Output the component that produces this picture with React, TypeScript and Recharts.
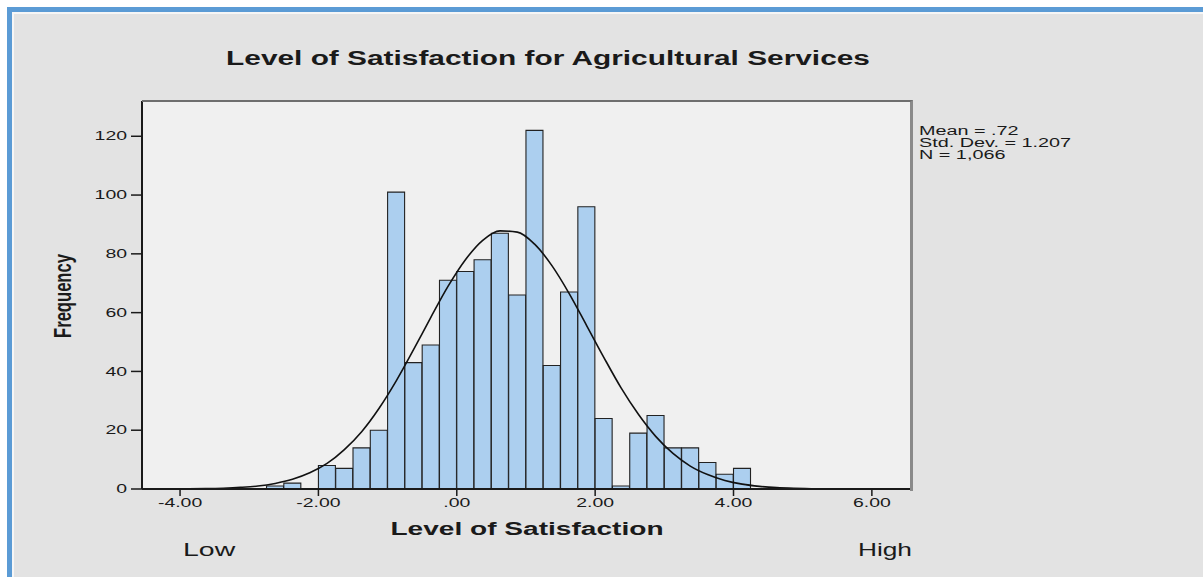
import * as React from "react";
import {
  ComposedChart,
  Bar,
  Line,
  XAxis,
  YAxis,
  CartesianGrid,
} from "recharts";

// bin mid points (bin width .25)
const binMids = [
  -2.625, -2.375, -2.125, -1.875, -1.625, -1.375, -1.125, -0.875, -0.625, -0.375,
  -0.125, 0.125, 0.375, 0.625, 0.875, 1.125, 1.375, 1.625, 1.875, 2.125,
  2.375, 2.625, 2.875, 3.125, 3.375, 3.625, 3.875, 4.125,
];
const counts = [
  1, 2, 0, 8, 7, 14, 20, 101, 43, 49,
  71, 74, 78, 87, 66, 122, 42, 67, 96, 24,
  1, 19, 25, 14, 14, 9, 5, 7,
];

// normal curve heights read at the same .25 grid across the plot
const curveX = [
  -4.375, -4.125, -3.875, -3.625, -3.375, -3.125, -2.875, -2.625, -2.375, -2.125,
  -1.875, -1.625, -1.375, -1.125, -0.875, -0.625, -0.375, -0.125, 0.125, 0.375,
  0.625, 0.875, 1.125, 1.375, 1.625, 1.875, 2.125, 2.375, 2.625, 2.875,
  3.125, 3.375, 3.625, 3.875, 4.125, 4.375, 4.625, 4.875, 5.125, 5.375,
  5.625, 5.875, 6.125, 6.375,
];
const curveY = [
  0.01, 0.03, 0.06, 0.13, 0.28, 0.55, 1.0, 1.9, 3.3, 5.5,
  8.7, 13.4, 19.5, 27.4, 36.8, 47.4, 58.4, 69.0, 78.0, 84.6,
  87.8, 87.4, 83.3, 76.0, 66.5, 55.7, 44.8, 34.4, 25.4, 17.9,
  12.1, 7.8, 4.9, 2.9, 1.65, 0.9, 0.47, 0.24, 0.11, 0.05,
  0.02, 0.01, 0.0, 0.0,
];

const xTicks = [-4, -2, 0, 2, 4, 6];
const yTicks = [0, 20, 40, 60, 80, 100, 120];
const statLines = ["Mean = .72", "Std. Dev. = 1.207", "N = 1,066"];

const rows = curveX.map((x, i) => {
  const j = binMids.indexOf(x);
  return { x, curve: curveY[i], count: j >= 0 ? counts[j] : null };
});

const FONT = "'Liberation Sans', Arial, sans-serif";
const INK = "#1a1a1a";

function fmtX(v: number) {
  if (v === 0) return ".00";
  return v.toFixed(2);
}

function XTick(props: any) {
  const { x, y, payload } = props;
  return (
    <g transform={`translate(${x},${y})`}>
      <text
        transform="scale(1.62,1)"
        textAnchor="middle"
        dy="0.71em"
        fontSize={12}
        fontFamily={FONT}
        fill={INK}
      >
        {fmtX(payload.value)}
      </text>
    </g>
  );
}

function YTick(props: any) {
  const { x, y, payload } = props;
  return (
    <g transform={`translate(${x},${y})`}>
      <text
        transform="scale(1.62,1)"
        textAnchor="end"
        dy="0.35em"
        fontSize={12}
        fontFamily={FONT}
        fill={INK}
      >
        {payload.value}
      </text>
    </g>
  );
}

const abs = (s: React.CSSProperties): React.CSSProperties => ({
  position: "absolute",
  whiteSpace: "nowrap",
  fontFamily: FONT,
  color: INK,
  transformOrigin: "0 0",
  ...s,
});

export default function App() {
  return (
    <div
      style={{
        position: "absolute",
        left: 0,
        top: 0,
        width: 1203,
        height: 577,
        background: "#ffffff",
        overflow: "hidden",
      }}
    >
      {/* blue frame */}
      <div style={{ position: "absolute", left: 7, top: 7, right: 0, bottom: 0, background: "#5b9bd5" }} />
      <div style={{ position: "absolute", left: 12, top: 12, right: 0, bottom: 0, background: "#f6f6f6" }} />
      <div style={{ position: "absolute", left: 14, top: 14, right: 0, bottom: 0, background: "#e3e3e3" }} />

      <div style={{ position: "absolute", left: 0, top: 0 }}>
        <ComposedChart
          width={1203}
          height={577}
          data={rows}
          margin={{ top: 101, right: 291, bottom: 58, left: 82 }}
          barCategoryGap={0}
          barGap={0}
        >
          <CartesianGrid horizontal={false} vertical={false} fill="#f0f0f0" />
          <XAxis
            type="number"
            dataKey="x"
            domain={[-4.55, 6.58]}
            ticks={xTicks}
            interval={0}
            height={30}
            tickSize={7}
            tickMargin={2}
            tickLine={{ stroke: INK, strokeWidth: 1.5 }}
            axisLine={{ stroke: INK, strokeWidth: 2 }}
            tick={<XTick />}
          />
          <YAxis
            type="number"
            domain={[0, 132]}
            ticks={yTicks}
            interval={0}
            width={60}
            tickSize={11}
            tickMargin={4}
            tickLine={{ stroke: INK, strokeWidth: 1.5 }}
            axisLine={{ stroke: INK, strokeWidth: 2 }}
            tick={<YTick />}
          />
          <Bar
            dataKey="count"
            fill="#accfef"
            stroke="#222222"
            strokeWidth={1.1}
            isAnimationActive={false}
          />
          <Line
            dataKey="curve"
            type="monotone"
            stroke="#111111"
            strokeWidth={1.6}
            dot={false}
            activeDot={false}
            isAnimationActive={false}
          />
        </ComposedChart>
      </div>

      {/* plot frame, top and right sides */}
      <div
        style={{
          position: "absolute",
          left: 142,
          top: 100,
          width: 768,
          height: 389,
          borderTop: "2px solid #6e6e6e",
          borderRight: "3px solid #8a8a8a",
          pointerEvents: "none",
        }}
      />

      {/* title */}
      <div
        style={abs({
          left: 548,
          top: 47,
          fontSize: 19.5,
          fontWeight: 700,
          transform: "scaleX(1.53) translateX(-50%)",
        })}
      >
        Level of Satisfaction for Agricultural Services
      </div>

      {/* y title */}
      <div
        style={abs({
          left: 63,
          top: 296,
          fontSize: 16.6,
          fontWeight: 700,
          lineHeight: "19px",
          transform: "scaleX(1.4) rotate(-90deg) translate(-50%, -50%)",
        })}
      >
        Frequency
      </div>

      {/* x title */}
      <div
        style={abs({
          left: 527,
          top: 519,
          fontSize: 18,
          fontWeight: 700,
          transform: "scaleX(1.56) translateX(-50%)",
        })}
      >
        Level of Satisfaction
      </div>

      <div style={abs({ left: 183, top: 540, fontSize: 18, transform: "scaleX(1.58)" })}>Low</div>
      <div
        style={abs({
          left: 912,
          top: 540,
          fontSize: 18,
          transform: "scaleX(1.46) translateX(-100%)",
        })}
      >
        High
      </div>

      {/* stats */}
      <div style={abs({ left: 919, top: 125, fontSize: 12, lineHeight: "12px", transform: "scaleX(1.65)" })}>
        {statLines.map((s) => (
          <div key={s}>{s}</div>
        ))}
      </div>
    </div>
  );
}
